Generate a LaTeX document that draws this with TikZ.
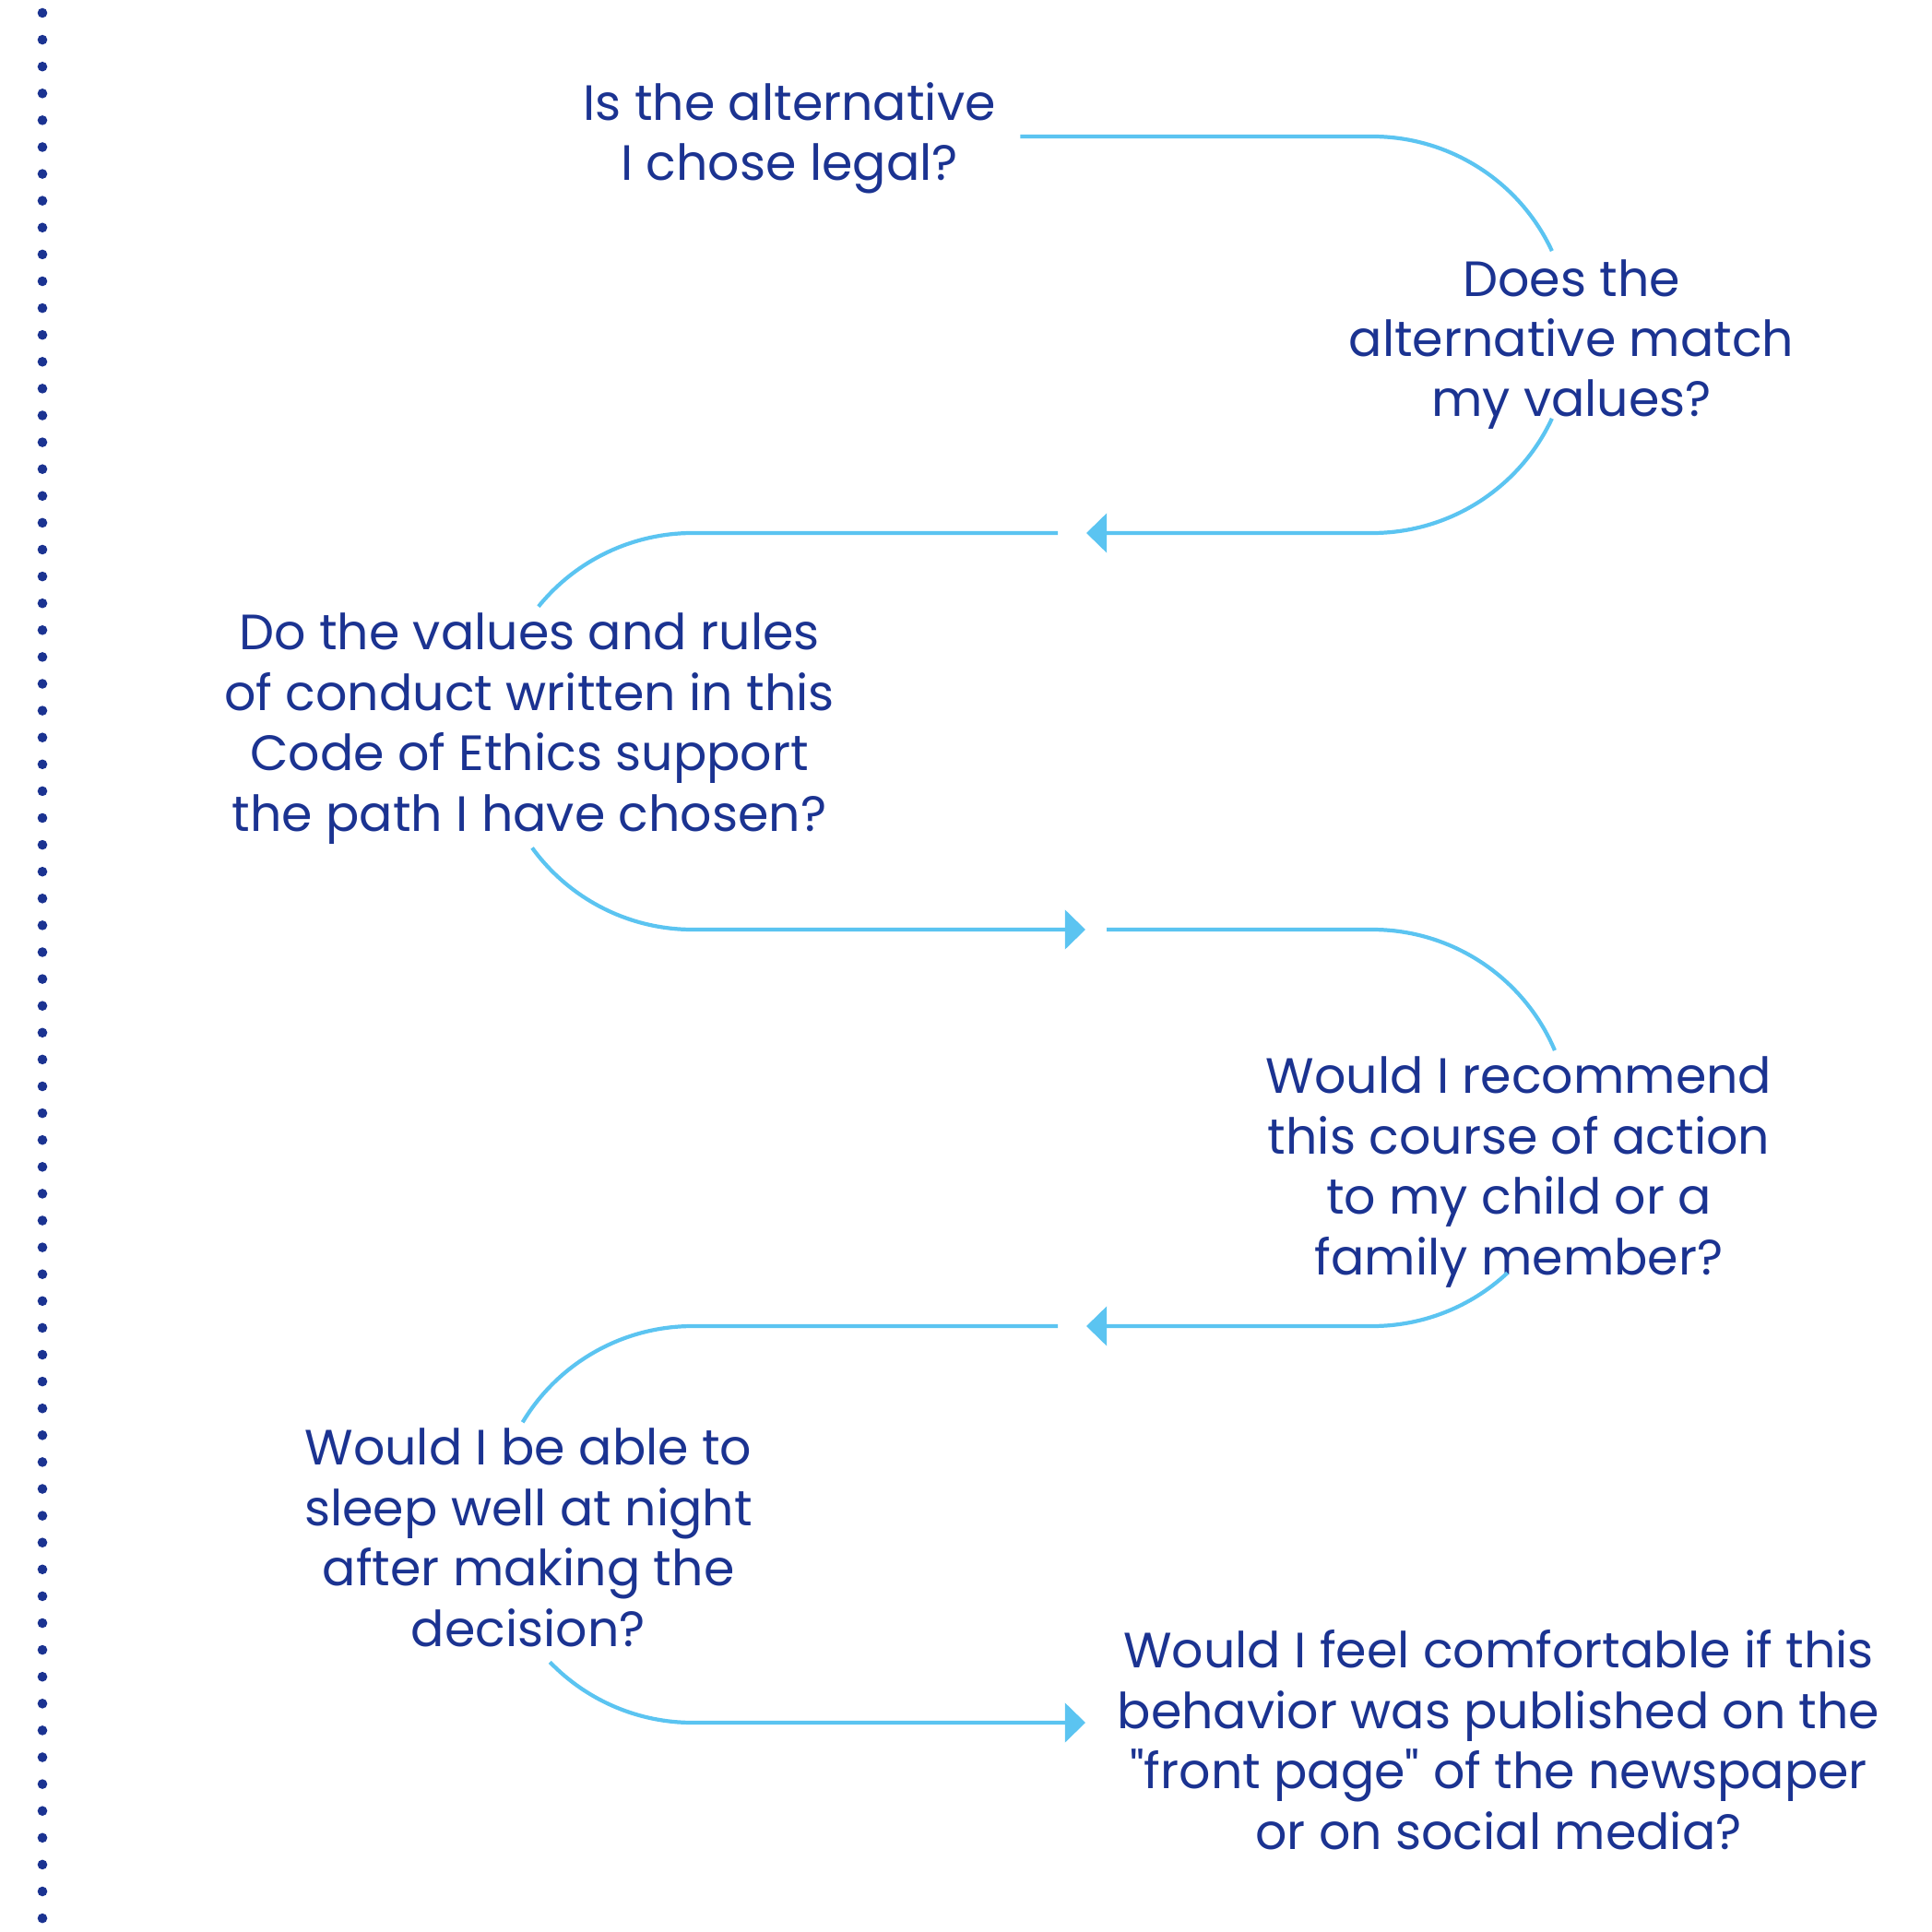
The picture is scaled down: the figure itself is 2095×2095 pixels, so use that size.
\documentclass[tikz,border=0pt]{standalone}
\usepackage{fontspec}
\setmainfont{Poppins}[Ligatures=TeXOff]
\usetikzlibrary{arrows.meta}
\definecolor{navy}{HTML}{1B3391}
\definecolor{sky}{HTML}{5BC4F1}

\begin{document}
\begin{tikzpicture}[x=0.01cm, y=-0.01cm,
    question/.style={align=center, anchor=base, text=navy, inner sep=0pt,
      font=\fontsize{15.3}{18.6}\selectfont},
    flow/.style={sky, line width=1.2pt},
    tip/.style={-{Triangle[length=6.3pt, width=12pt]}}]
  \useasboundingbox (0,0) rectangle (2095,2095);
  % dotted rule on the left
  \foreach \k in {0,...,71}
    \fill[navy] (46,{14+29.1*\k}) circle[radius=5.3];

  % questions (placed at the baseline of their last line)
  \node[question] (legal) at (856,196) {Is the alternative\\I chose legal?};
  \node[question] (values) at (1704,452) {Does the\\alternative match\\my values?};
  \node[question] (code) at (574,901) {Do the values and rules\\of conduct written in this\\Code of Ethics support\\the path I have chosen?};
  \node[question] (family) at (1647,1382) {Would I recommend\\this course of action\\to my child or a\\family member?};
  \node[question] (sleep) at (573,1785) {Would I be able to\\sleep well at night\\after making the\\decision?};
  \node[question] (press) at (1625,2005) {Would I feel comfortable if this\\behavior was published on the\\"front page" of the newspaper\\or on social media?};

  % centres of the bends
  \coordinate (c1) at (1488,363);
  \coordinate (c2) at (751,793);
  \coordinate (c3) at (1488,1223);
  \coordinate (c4) at (751,1653);
  % arrow tips between the bends
  \coordinate (j1) at (1178,578);
  \coordinate (j2) at (1177,1008);
  \coordinate (j3) at (1178,1438);
  \coordinate (j4) at (1177,1868);

  \draw[flow] (legal.east |- 0,148) ++(26,0) -- (1488,148) arc[start angle=-90, end angle=-25, radius=215];
  \draw[flow, tip] (c1) ++(25:215) arc[start angle=25, end angle=90, radius=215] -- (j1);
  \draw[flow] (j1) ++(-31,0) -- (751,578) arc[start angle=-90, end angle=-141, radius=215];
  \draw[flow, tip] (c2) ++(144:215) arc[start angle=144, end angle=90, radius=215] -- (j2);
  \draw[flow] (j2) ++(23,0) -- (1488,1008) arc[start angle=-90, end angle=-23, radius=215];
  \draw[flow, tip] (c3) ++(47:215) arc[start angle=47, end angle=90, radius=215] -- (j3);
  \draw[flow] (j3) ++(-31,0) -- (751,1438) arc[start angle=-90, end angle=-149, radius=215];
  \draw[flow, tip] (c4) ++(136:215) arc[start angle=136, end angle=90, radius=215] -- (j4);
\end{tikzpicture}
\end{document}
